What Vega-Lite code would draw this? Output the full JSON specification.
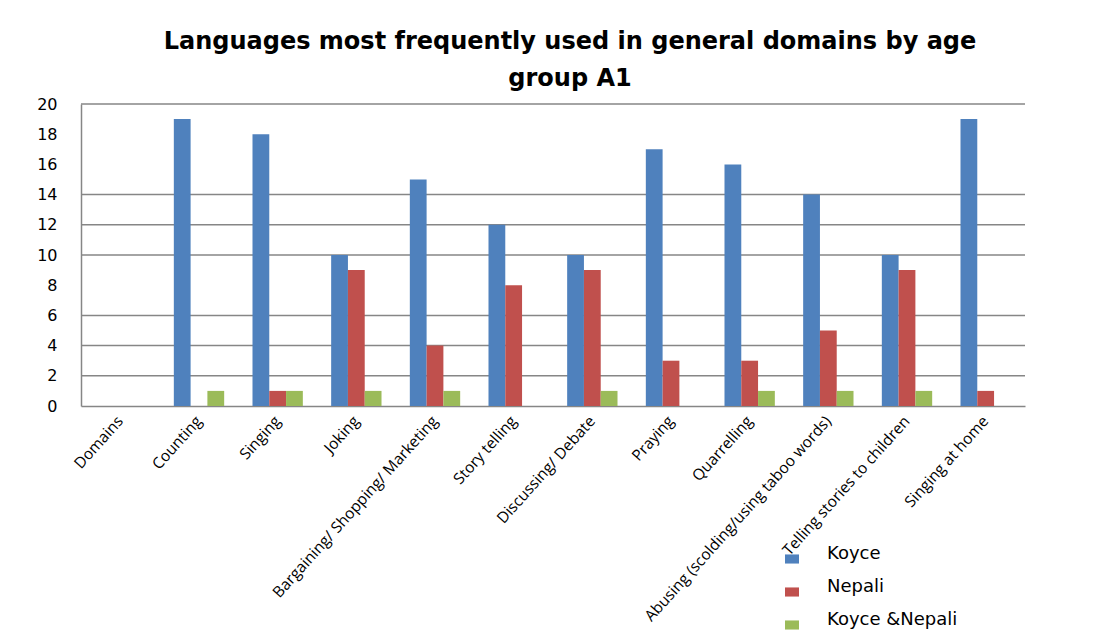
{
  "$schema": "https://vega.github.io/schema/vega-lite/v6.json",
  "width": 944,
  "height": 302,
  "autosize": {"type": "none"},
  "padding": {"left": 81, "top": 104, "right": 75, "bottom": 235},
  "background": "white",
  "title": {
    "text": ["Languages most frequently used in general domains by  age", "group A1"],
    "font": "DejaVu Sans",
    "fontSize": 24,
    "fontWeight": "bold",
    "lineHeight": 37,
    "anchor": "middle",
    "dx": 17,
    "offset": 5,
    "color": "black"
  },
  "datasets": {
    "bars": [
      {"domain": "Domains", "language": "Koyce", "count": 0},
      {"domain": "Domains", "language": "Nepali", "count": 0},
      {"domain": "Domains", "language": "Koyce &Nepali", "count": 0},
      {"domain": "Counting", "language": "Koyce", "count": 19},
      {"domain": "Counting", "language": "Nepali", "count": 0},
      {"domain": "Counting", "language": "Koyce &Nepali", "count": 1},
      {"domain": "Singing", "language": "Koyce", "count": 18},
      {"domain": "Singing", "language": "Nepali", "count": 1},
      {"domain": "Singing", "language": "Koyce &Nepali", "count": 1},
      {"domain": "Joking", "language": "Koyce", "count": 10},
      {"domain": "Joking", "language": "Nepali", "count": 9},
      {"domain": "Joking", "language": "Koyce &Nepali", "count": 1},
      {"domain": "Bargaining/ Shopping/ Marketing", "language": "Koyce", "count": 15},
      {"domain": "Bargaining/ Shopping/ Marketing", "language": "Nepali", "count": 4},
      {"domain": "Bargaining/ Shopping/ Marketing", "language": "Koyce &Nepali", "count": 1},
      {"domain": "Story telling", "language": "Koyce", "count": 12},
      {"domain": "Story telling", "language": "Nepali", "count": 8},
      {"domain": "Story telling", "language": "Koyce &Nepali", "count": 0},
      {"domain": "Discussing/ Debate", "language": "Koyce", "count": 10},
      {"domain": "Discussing/ Debate", "language": "Nepali", "count": 9},
      {"domain": "Discussing/ Debate", "language": "Koyce &Nepali", "count": 1},
      {"domain": "Praying", "language": "Koyce", "count": 17},
      {"domain": "Praying", "language": "Nepali", "count": 3},
      {"domain": "Praying", "language": "Koyce &Nepali", "count": 0},
      {"domain": "Quarrelling", "language": "Koyce", "count": 16},
      {"domain": "Quarrelling", "language": "Nepali", "count": 3},
      {"domain": "Quarrelling", "language": "Koyce &Nepali", "count": 1},
      {"domain": "Abusing (scolding/using taboo words)", "language": "Koyce", "count": 14},
      {"domain": "Abusing (scolding/using taboo words)", "language": "Nepali", "count": 5},
      {"domain": "Abusing (scolding/using taboo words)", "language": "Koyce &Nepali", "count": 1},
      {"domain": "Telling stories to children", "language": "Koyce", "count": 10},
      {"domain": "Telling stories to children", "language": "Nepali", "count": 9},
      {"domain": "Telling stories to children", "language": "Koyce &Nepali", "count": 1},
      {"domain": "Singing at home", "language": "Koyce", "count": 19},
      {"domain": "Singing at home", "language": "Nepali", "count": 1},
      {"domain": "Singing at home", "language": "Koyce &Nepali", "count": 0}
    ],
    "grid": [
      {"level": 2}, {"level": 4}, {"level": 6}, {"level": 10},
      {"level": 12}, {"level": 14}, {"level": 20}
    ]
  },
  "layer": [
    {
      "data": {"name": "grid"},
      "mark": {"type": "rule", "color": "#868686", "strokeWidth": 1.5},
      "encoding": {
        "y": {
          "field": "level",
          "type": "quantitative",
          "scale": {"domain": [0, 20], "nice": false},
          "axis": {
            "title": null,
            "values": [0, 2, 4, 6, 8, 10, 12, 14, 16, 18, 20],
            "labelFont": "DejaVu Sans",
            "labelFontSize": 16,
            "labelColor": "black",
            "labelPadding": 24,
            "labelOverlap": false,
            "ticks": false,
            "domainColor": "#868686",
            "domainWidth": 1.5,
            "grid": false
          }
        }
      }
    },
    {
      "data": {"name": "bars"},
      "mark": {"type": "bar"},
      "encoding": {
        "x": {
          "field": "domain",
          "type": "nominal",
          "sort": ["Domains", "Counting", "Singing", "Joking", "Bargaining/ Shopping/ Marketing", "Story telling", "Discussing/ Debate", "Praying", "Quarrelling", "Abusing (scolding/using taboo words)", "Telling stories to children", "Singing at home"],
          "scale": {"paddingInner": 0.36, "paddingOuter": 0.18},
          "axis": {
            "title": null,
            "labelAngle": -48,
            "labelFont": "Open Sans",
            "labelFontSize": 15.5,
            "labelColor": "black",
            "labelPadding": 12,
            "labelLimit": 0,
            "labelOverlap": false,
            "ticks": false,
            "domainColor": "#868686",
            "domainWidth": 1.5
          }
        },
        "xOffset": {
          "field": "language",
          "type": "nominal",
          "sort": ["Koyce", "Nepali", "Koyce &Nepali"],
          "scale": {"paddingInner": 0, "paddingOuter": 0}
        },
        "y": {
          "field": "count",
          "type": "quantitative",
          "scale": {"domain": [0, 20], "nice": false},
          "axis": {
            "title": null,
            "values": [0, 2, 4, 6, 8, 10, 12, 14, 16, 18, 20],
            "labelFont": "DejaVu Sans",
            "labelFontSize": 16,
            "labelColor": "black",
            "labelPadding": 24,
            "labelOverlap": false,
            "ticks": false,
            "domainColor": "#868686",
            "domainWidth": 1.5,
            "grid": false
          }
        },
        "color": {
          "field": "language",
          "type": "nominal",
          "sort": ["Koyce", "Nepali", "Koyce &Nepali"],
          "scale": {"domain": ["Koyce", "Nepali", "Koyce &Nepali"], "range": ["#4F81BD", "#C0504D", "#9BBB59"]},
          "legend": {
            "title": null,
            "orient": "none",
            "legendX": 702,
            "legendY": 446,
            "padding": 0,
            "rowPadding": 14,
            "labelOffset": 26,
            "symbolType": "M-1,-0.65H1V0.65H-1Z",
            "symbolSize": 196,
            "symbolStrokeWidth": 0,
            "labelFont": "DejaVu Sans",
            "labelFontSize": 18,
            "labelColor": "black",
            "labelBaseline": "alphabetic"
          }
        }
      }
    }
  ],
  "config": {"view": {"stroke": null}, "axis": {"grid": false}}
}
